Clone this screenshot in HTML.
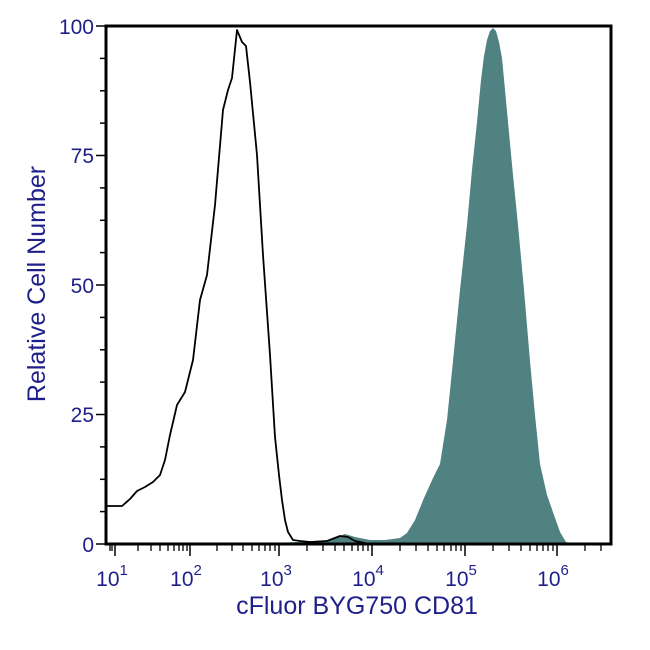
<!DOCTYPE html>
<html><head><style>body{margin:0;background:#fff}svg{display:block}</style></head><body>
<svg width="650" height="650" xmlns="http://www.w3.org/2000/svg" font-family="Liberation Sans, DejaVu Sans, sans-serif">
<rect width="650" height="650" fill="#fff"/>
<path fill="#4f8280" d="M240,544 L300,542 L330,540 L345,534 L355,537 L370,540 L385,540 L400,538 L407,533 L415,520 L424,498 L433,478 L440,464 L447,420 L453,361 L460,290 L467,225 L472,170 L477,122 L481,80 L484,56 L487,40 L490,31 L493,28 L496,31 L499,42 L502,58 L508,122 L513,175 L518,225 L524,290 L530,361 L535,415 L540,464 L547,495 L554,515 L560,532 L566,542 L575,544 Z"/>
<polyline fill="none" stroke="#000" stroke-width="1.8" stroke-linejoin="round" points="107,506 122,506 130,499 137,491 145,487 153,482 160,475 165,460 170,435 177,405 185,392 193,360 200,300 207,275 215,205 223,110 228,90 232,78 237,30 242,42 246,46 250,82 257,155 263,255 270,355 275,437 279,475 282,500 285,520 288,532 293,540 300,541 310,542 327,541 340,536 348,537 355,541 365,543"/>
<rect x="106" y="26" width="505" height="518" stroke-width="3" stroke="#000" fill="none"/>
<g stroke="#000" stroke-width="1.5">
<line x1="96" y1="26" x2="106" y2="26"/><line x1="96" y1="155.5" x2="106" y2="155.5"/><line x1="96" y1="285" x2="106" y2="285"/><line x1="96" y1="414.5" x2="106" y2="414.5"/><line x1="96" y1="544" x2="106" y2="544"/>
<line x1="100" y1="58.4" x2="106" y2="58.4"/><line x1="100" y1="90.8" x2="106" y2="90.8"/><line x1="100" y1="123.1" x2="106" y2="123.1"/>
<line x1="100" y1="187.9" x2="106" y2="187.9"/><line x1="100" y1="220.3" x2="106" y2="220.3"/><line x1="100" y1="252.6" x2="106" y2="252.6"/>
<line x1="100" y1="317.4" x2="106" y2="317.4"/><line x1="100" y1="349.8" x2="106" y2="349.8"/><line x1="100" y1="382.1" x2="106" y2="382.1"/>
<line x1="100" y1="446.9" x2="106" y2="446.9"/><line x1="100" y1="479.3" x2="106" y2="479.3"/><line x1="100" y1="511.6" x2="106" y2="511.6"/>
</g>
<g stroke="#000" stroke-width="1.5">
<line x1="115" y1="544" x2="115" y2="556"/><line x1="190" y1="544" x2="190" y2="556"/><line x1="279" y1="544" x2="279" y2="556"/><line x1="372" y1="544" x2="372" y2="556"/><line x1="465" y1="544" x2="465" y2="556"/><line x1="557" y1="544" x2="557" y2="556"/>
</g>
<g stroke="#000" stroke-width="1.3">
<line x1="110" y1="544" x2="110" y2="551"/><line x1="112" y1="544" x2="112" y2="551"/>
<line x1="138" y1="544" x2="138" y2="551"/><line x1="151" y1="544" x2="151" y2="551"/><line x1="160" y1="544" x2="160" y2="551"/><line x1="168" y1="544" x2="168" y2="551"/><line x1="174" y1="544" x2="174" y2="551"/><line x1="179" y1="544" x2="179" y2="551"/><line x1="183" y1="544" x2="183" y2="551"/><line x1="187" y1="544" x2="187" y2="551"/>
<line x1="217" y1="544" x2="217" y2="551"/><line x1="232" y1="544" x2="232" y2="551"/><line x1="243" y1="544" x2="243" y2="551"/><line x1="252" y1="544" x2="252" y2="551"/><line x1="259" y1="544" x2="259" y2="551"/><line x1="265" y1="544" x2="265" y2="551"/><line x1="270" y1="544" x2="270" y2="551"/><line x1="275" y1="544" x2="275" y2="551"/>
<line x1="307" y1="544" x2="307" y2="551"/><line x1="323" y1="544" x2="323" y2="551"/><line x1="335" y1="544" x2="335" y2="551"/><line x1="344" y1="544" x2="344" y2="551"/><line x1="352" y1="544" x2="352" y2="551"/><line x1="358" y1="544" x2="358" y2="551"/><line x1="363" y1="544" x2="363" y2="551"/><line x1="368" y1="544" x2="368" y2="551"/>
<line x1="400" y1="544" x2="400" y2="551"/><line x1="416" y1="544" x2="416" y2="551"/><line x1="428" y1="544" x2="428" y2="551"/><line x1="437" y1="544" x2="437" y2="551"/><line x1="444" y1="544" x2="444" y2="551"/><line x1="451" y1="544" x2="451" y2="551"/><line x1="456" y1="544" x2="456" y2="551"/><line x1="461" y1="544" x2="461" y2="551"/>
<line x1="493" y1="544" x2="493" y2="551"/><line x1="509" y1="544" x2="509" y2="551"/><line x1="521" y1="544" x2="521" y2="551"/><line x1="530" y1="544" x2="530" y2="551"/><line x1="537" y1="544" x2="537" y2="551"/><line x1="543" y1="544" x2="543" y2="551"/><line x1="548" y1="544" x2="548" y2="551"/><line x1="553" y1="544" x2="553" y2="551"/>
<line x1="585" y1="544" x2="585" y2="551"/><line x1="601" y1="544" x2="601" y2="551"/>
</g>
<g fill="#1f1f8a" font-size="21" text-anchor="end">
<text x="94" y="34">100</text><text x="94" y="163">75</text><text x="94" y="293">50</text><text x="94" y="422">25</text><text x="94" y="552">0</text>
</g>
<g fill="#1f1f8a" font-size="21" text-anchor="middle">
<text x="112" y="586">10<tspan font-size="15" dy="-11">1</tspan></text>
<text x="186" y="586">10<tspan font-size="15" dy="-11">2</tspan></text>
<text x="276" y="586">10<tspan font-size="15" dy="-11">3</tspan></text>
<text x="368" y="586">10<tspan font-size="15" dy="-11">4</tspan></text>
<text x="461" y="586">10<tspan font-size="15" dy="-11">5</tspan></text>
<text x="553" y="586">10<tspan font-size="15" dy="-11">6</tspan></text>
<text x="357" y="614" font-size="25">cFluor BYG750 CD81</text>
<text transform="translate(45,284) rotate(-90)" font-size="25">Relative Cell Number</text>
</g>
</svg>
</body></html>
